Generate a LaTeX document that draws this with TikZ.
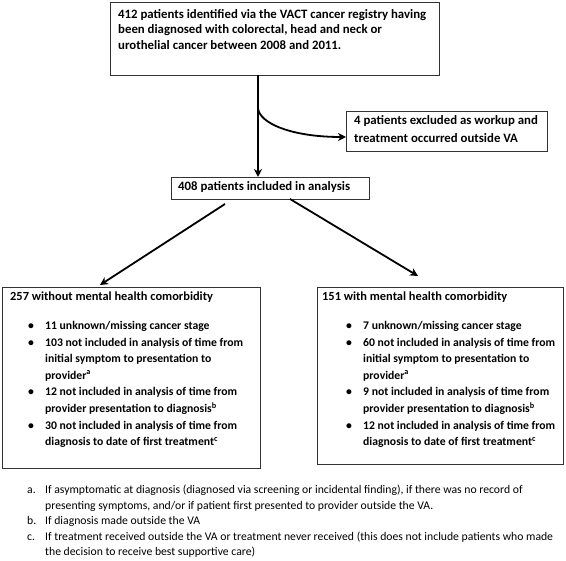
\documentclass[tikz,border=0pt]{standalone}
\usepackage{fontspec}
\setmainfont{Carlito}
\usetikzlibrary{arrows.meta,calc}
\newcommand\fbul{\makebox[17pt][l]{\textbullet}}
\newcommand\myind{\hspace*{17pt}}
\newcommand\fnl[1]{\makebox[18pt][l]{#1}}
\begin{document}
\begin{tikzpicture}[x=1pt,y=-1pt,
 box/.style={draw=black!80, line width=0.9pt, inner sep=0pt, outer sep=0pt, anchor=north west},
 txt/.style={anchor=north west, inner sep=0pt, align=left, font=\bfseries\fontsize{12.8}{15.5}\selectfont},
 ttxt/.style={anchor=north west, inner sep=0pt, align=left, font=\bfseries\fontsize{12.4}{16.6}\selectfont},
 btxt/.style={anchor=north west, inner sep=0pt, align=left, font=\bfseries\fontsize{11.7}{16.6}\selectfont},
 ftxt/.style={anchor=north west, inner sep=0pt, align=left, font=\fontsize{11.7}{15.5}\selectfont},
 arr/.style={line width=1.8pt, -{Stealth[length=8pt,width=8pt,inset=2.5pt]}},
]
\useasboundingbox (0,0) rectangle (566,561);
% boxes
\node[box, minimum width=329pt, minimum height=73pt] (reg) at (110,2) {};
\node[txt] (regt) at (118,9) {412 patients identified via the VACT cancer registry having\\been diagnosed with colorectal, head and neck or\\urothelial cancer between 2008 and 2011.};
\node[box, minimum width=201pt, minimum height=40pt] (excl) at (346,111) {};
\node[txt, font=\bfseries\fontsize{12.8}{18}\selectfont] (exclt) at (354,115) {4 patients excluded as workup and\\treatment occurred outside VA};
\node[box, minimum width=198pt, minimum height=22pt] (incl) at (171,177) {};
\node[txt] (inclt) at (178,181) {408 patients included in analysis};
\node[box, minimum width=258pt, minimum height=181pt] (left) at (2,287) {};
\node[ttxt] (leftt) at (10,292) {257 without mental health comorbidity};
\node[btxt] (leftl) at (28,321) {\fbul 11 unknown/missing cancer stage\\
\fbul 103 not included in analysis of time from\\
\myind initial symptom to presentation to\\
\myind provider\textsuperscript{a}\\
\fbul 12 not included in analysis of time from\\
\myind provider presentation to diagnosis\textsuperscript{b}\\
\fbul 30 not included in analysis of time from\\
\myind diagnosis to date of first treatment\textsuperscript{c}};
\node[box, minimum width=246pt, minimum height=177pt] (right) at (317,287) {};
\node[ttxt] (rightt) at (322,292) {151 with mental health comorbidity};
\node[btxt] (rightl) at (346,321) {\fbul 7 unknown/missing cancer stage\\
\fbul 60 not included in analysis of time from\\
\myind initial symptom to presentation to\\
\myind provider\textsuperscript{a}\\
\fbul 9 not included in analysis of time from\\
\myind provider presentation to diagnosis\textsuperscript{b}\\
\fbul 12 not included in analysis of time from\\
\myind diagnosis to date of first treatment\textsuperscript{c}};
% footnotes
\node[ftxt] (notes) at (27,485) {\fnl{a.}If asymptomatic at diagnosis (diagnosed via screening or incidental finding), if there was no record of\\
\fnl{}presenting symptoms, and/or if patient first presented to provider outside the VA.\\
\fnl{b.}If diagnosis made outside the VA\\
\fnl{c.}If treatment received outside the VA or treatment never received (this does not include patients who made\\
\fnl{}the decision to receive best supportive care)};
% connectors
\coordinate (vtop) at ($(reg.south west)+(148,0)$);
\coordinate (branch) at ($(vtop)+(0,33)$);
\draw[arr] (vtop) -- (vtop |- incl.north);
\draw[arr] (branch) .. controls ($(branch)+(1,15)$) and ($(excl.west)+(-55,6)$) .. ($(excl.west)+(0,6)$);
\draw[arr] ($(incl.south west)+(54,5)$) -- ($(left.north west)+(98,-2)$);
\draw[arr] ($(incl.south west)+(119,0)$) -- ($(right.north west)+(101,-11)$);
\end{tikzpicture}
\end{document}
